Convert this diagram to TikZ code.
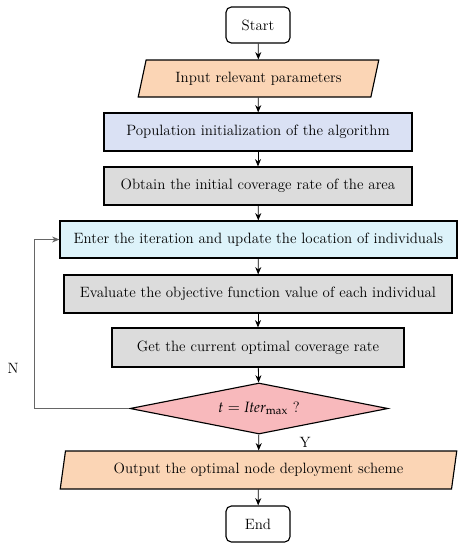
\documentclass[tikz,border=0pt]{standalone}
\usepackage{mathpazo}
\usepackage{tikz}
\usetikzlibrary{arrows.meta, shapes.geometric}
\definecolor{peach}{RGB}{251,213,181}
\definecolor{initblue}{RGB}{218,225,244}
\definecolor{iterblue}{RGB}{221,243,250}
\definecolor{stepgray}{RGB}{220,220,220}
\definecolor{checkpink}{RGB}{248,185,188}

\begin{document}
\begin{tikzpicture}[x=0.75pt, y=-0.75pt,
  box/.style={draw, line width=0.85pt, minimum height=28.5pt, inner sep=2pt, font=\fontsize{11.2}{13}\selectfont},
  term/.style={box, rounded corners=4pt, minimum width=48pt, minimum height=27pt},
  io/.style={box, trapezium, trapezium stretches=true, fill=peach},
  link/.style={-{Stealth[length=5.5pt,width=4.5pt]}, line width=0.6pt},
]
\useasboundingbox (0,0) rectangle (467,550);

\node[term] (start) at (258,25) {Start};
\node[io, trapezium left angle=72, trapezium right angle=108, minimum width=180.75pt, minimum height=27.75pt] (input) at (258.5,78.5) {Input relevant parameters};
\node[box, minimum width=231pt, fill=initblue]  (init)   at (258,132)   {Population initialization of the algorithm};
\node[box, minimum width=231pt, fill=stepgray]  (cover)  at (258,186)   {Obtain the initial coverage rate of the area};
\node[box, minimum width=297.75pt, minimum height=27.75pt, fill=iterblue] (update) at (258.5,239.5) {Enter the iteration and update the location of individuals};
\node[box, minimum width=291pt, fill=stepgray]  (eval)   at (258,294)   {Evaluate the objective function value of each individual};
\node[box, minimum width=219pt, minimum height=29.25pt, fill=stepgray] (best) at (258,347.5) {Get the current optimal coverage rate};
\node[box, diamond, aspect=5, minimum width=193.5pt, minimum height=38.25pt, inner sep=0pt, fill=checkpink] (check) at (259,408.5) {$t = \mathit{Iter}_{\mathrm{max}}$ ?};
\node[io, trapezium left angle=78, trapezium right angle=102, minimum width=297.75pt, minimum height=28.5pt] (output) at (258.5,470) {Output the optimal node deployment scheme};
\node[term] (end) at (258,524) {End};

\node[font=\fontsize{11.2}{13}\selectfont] (nlabel) at (13,368) {N};
\node[font=\fontsize{11.2}{13}\selectfont] (ylabel) at (305,442) {Y};

\draw[link] (start) -- (input);
\draw[link] (input) -- (init);
\draw[link] (init) -- (cover);
\draw[link] (cover) -- (update);
\draw[link] (update) -- (eval);
\draw[link] (eval) -- (best);
\draw[link] (best) -- (check);
\draw[link] (check) -- (output);
\draw[link] (output) -- (end);
\draw[link, draw=black!60] (check.west) -- ++(-95,0) |- (update.west);

\end{tikzpicture}
\end{document}
